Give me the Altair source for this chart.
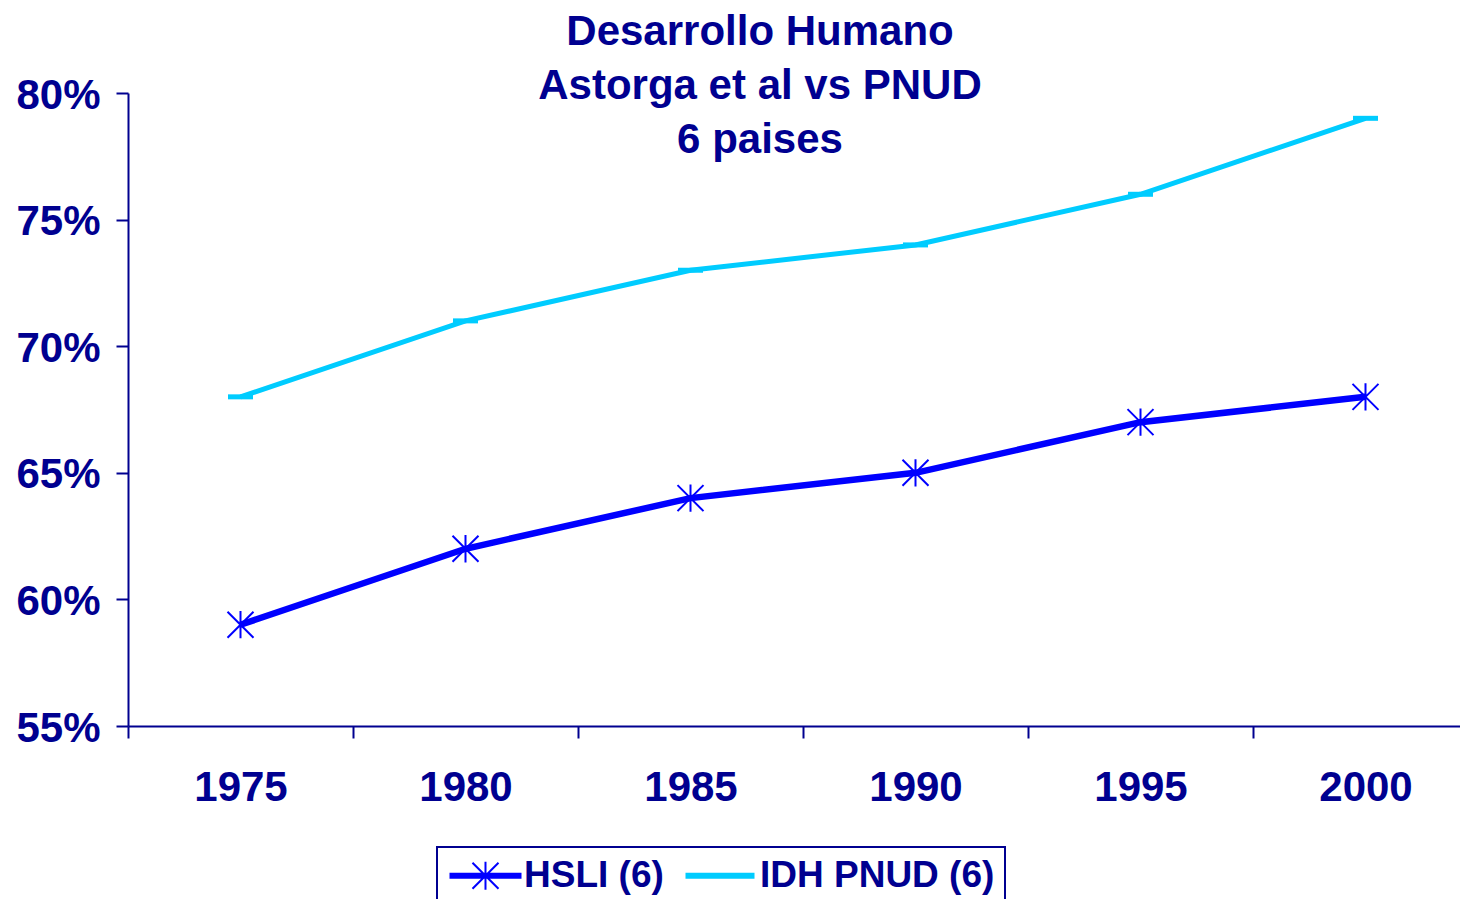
import altair as alt
import pandas as pd

# ---- data ----
years = [1975, 1980, 1985, 1990, 1995, 2000]
hsli = [0.59, 0.62, 0.64, 0.65, 0.67, 0.68]
idh = [0.68, 0.71, 0.73, 0.74, 0.76, 0.79]
series_names = ["HSLI (6)", "IDH PNUD (6)"]
y_ticks = [0.55, 0.60, 0.65, 0.70, 0.75, 0.80]
title_lines = ["Desarrollo Humano", "Astorga et al vs PNUD", "6 paises"]

NAVY = "#000090"
BLUE = "#0000FF"
CYAN = "#00CCFF"
FONT = "Liberation Sans"

df = pd.DataFrame({
    "year": years * 2,
    "value": hsli + idh,
    "series": [series_names[0]] * len(years) + [series_names[1]] * len(years),
})
legend_df = pd.DataFrame({"series": series_names, "year": [years[1]] * 2, "value": [0.50, 0.50]})

# category boundaries (Excel-style ticks between categories)
bounds = [y - 2.5 for y in years]

xscale = alt.Scale(domain=[1972.5, 2002.1], nice=False, zero=False)
yscale = alt.Scale(domain=[0.55, 0.80], nice=False, zero=False)

xaxis = alt.Axis(values=bounds, labelExpr="format(datum.value + 2.5, 'd')",
                 labelOffset=112.5, labelOverlap=False, labelFlush=False, labelBound=False,
                 grid=False, tickSize=12, tickWidth=2, tickColor=NAVY,
                 domainColor=NAVY, domainWidth=2, labelFontSize=42, labelFont=FONT,
                 labelFontWeight="bold", labelColor=NAVY, labelPadding=49,
                 labelBaseline="middle", title=None)
yaxis = alt.Axis(values=y_ticks, format=".0%", grid=False, tickSize=12, tickWidth=2,
                 tickColor=NAVY, domainColor=NAVY, domainWidth=2, labelFontSize=42,
                 labelFont=FONT, labelFontWeight="bold", labelColor=NAVY,
                 labelPadding=16, labelBaseline="middle", labelOffset=2, title=None)

X = alt.X("year:Q", scale=xscale, axis=xaxis)
Y = alt.Y("value:Q", scale=yscale, axis=yaxis)
base = alt.Chart(df).encode(x=X, y=Y)

ASTER = "M-1,-1L1,1M-1,1L1,-1M0,-1.05L0,1.05"
DASH = "M-1,0L1,0"

# legend symbols (unit = 15px)
LEG_H = ("M-1,-0.133L3.667,-0.133L3.667,0.133L-1,0.133Z"
         "M0.466,-0.867L2.2,0.867M0.466,0.867L2.2,-0.867M1.333,-0.93L1.333,0.93")
LEG_I = "M-1,-0.133L3.467,-0.133L3.467,0.133L-1,0.133Z"

f_h = alt.datum.series == series_names[0]
f_i = alt.datum.series == series_names[1]

line_h = base.transform_filter(f_h).mark_line(color=BLUE, strokeWidth=6.5)
line_i = base.transform_filter(f_i).mark_line(color=CYAN, strokeWidth=5)
pt_i = base.transform_filter(f_i).mark_point(shape=DASH, size=625, filled=False, color=CYAN,
                                              strokeWidth=5, opacity=1, strokeCap="butt")
pt_h = base.transform_filter(f_h).mark_point(shape=ASTER, size=676, filled=False, color=BLUE,
                                              strokeWidth=2, opacity=1)

leg = alt.Legend(title=None, orient="none", legendX=309, legendY=754, direction="horizontal")
legend_layer = alt.Chart(legend_df).mark_point(filled=True, clip=True, opacity=1, strokeWidth=2).encode(
    x=X,
    y=Y,
    color=alt.Color("series:N", scale=alt.Scale(domain=series_names, range=[BLUE, CYAN]), legend=leg),
    stroke=alt.Stroke("series:N", scale=alt.Scale(domain=series_names, range=[BLUE, CYAN]), legend=leg),
    shape=alt.Shape("series:N", scale=alt.Scale(domain=series_names, range=[LEG_H, LEG_I]), legend=leg),
)

chart = alt.layer(line_i, line_h, pt_i, pt_h, legend_layer).properties(
    width=1332,
    height=633,
    padding={"left": 120, "top": 85, "right": 0, "bottom": 173},
    autosize=alt.AutoSizeParams(type="none"),
    background="white",
    title=alt.TitleParams(text=title_lines, fontSize=42, font=FONT, fontWeight="bold",
                          color=NAVY, lineHeight=54, anchor="middle", frame="group",
                          offset=0, dx=-34, dy=88),
).configure_view(stroke=None).configure_legend(
    padding=10, strokeColor=NAVY, strokeWidth=2, labelFontSize=37, labelFont=FONT,
    labelFontWeight="bold", labelColor=NAVY, labelOffset=40, columnPadding=18,
    symbolSize=900, symbolStrokeWidth=2, symbolOpacity=1, labelLimit=0,
)

chart.save("out.html", embed_options={"renderer": "svg", "actions": False})
